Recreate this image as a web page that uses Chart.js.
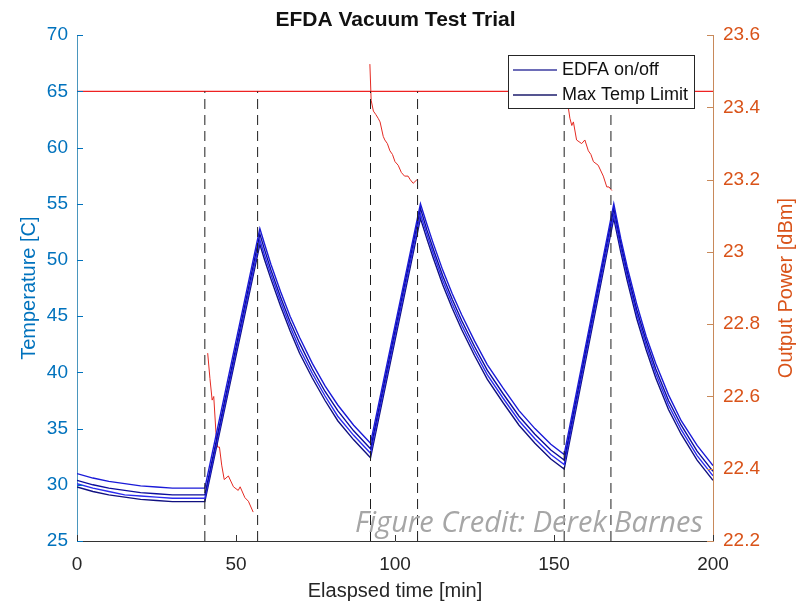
<!DOCTYPE html>
<html>
<head>
<meta charset="utf-8">
<script src="https://cdn.jsdelivr.net/npm/chart.js@4.4.1/dist/chart.umd.min.js"></script>
<style>
  html, body { margin: 0; padding: 0; background: #fff; }
</style>
</head>
<body>
<canvas id="chart" width="803" height="601"></canvas>
<script>
// time axis shared by the four temperature channels [min]
const tempTimes = [0, 5, 10, 15, 20, 25, 30, 35, 40.2,
  57.5, 59, 61, 64, 67, 70, 74, 78, 82, 87, 92.3,
  108, 110, 112, 115, 118, 121, 125, 129, 134, 139, 144, 149, 153.2,
  168.8, 171, 173, 176, 179, 182, 186, 190, 195, 200];

const temp1 = [31.0, 30.6, 30.3, 30.1, 29.9, 29.8, 29.7, 29.7, 29.7,
  52.8, 51.4, 49.6, 47.2, 45.0, 43.1, 40.8, 38.8, 37.1, 35.3, 33.7,
  55.0, 53.2, 51.5, 49.1, 47.0, 45.1, 42.8, 40.7, 38.6, 36.6, 35.0, 33.6, 32.7,
  55.0, 51.9, 49.4, 46.1, 43.2, 40.8, 38.0, 35.7, 33.5, 31.7];
const temp2 = [30.4, 30.0, 29.7, 29.5, 29.3, 29.2, 29.1, 29.1, 29.1,
  52.3, 50.9, 49.1, 46.7, 44.5, 42.6, 40.3, 38.3, 36.6, 34.8, 33.2,
  54.6, 52.7, 51.0, 48.6, 46.5, 44.6, 42.3, 40.2, 38.1, 36.1, 34.5, 33.1, 32.2,
  54.6, 51.5, 49.0, 45.6, 42.8, 40.3, 37.5, 35.3, 33.0, 31.2];
const temp3 = [30.1, 29.7, 29.4, 29.1, 29.0, 28.9, 28.8, 28.8, 28.8,
  51.8, 50.4, 48.7, 46.3, 44.1, 42.1, 39.9, 37.9, 36.1, 34.4, 32.8,
  54.1, 52.3, 50.6, 48.2, 46.1, 44.2, 41.9, 39.8, 37.7, 35.7, 34.1, 32.7, 31.8,
  54.1, 51.1, 48.6, 45.2, 42.4, 39.9, 37.1, 34.9, 32.6, 30.8];
const temp4 = [29.8, 29.4, 29.1, 28.9, 28.7, 28.6, 28.5, 28.5, 28.5,
  51.4, 50.0, 48.3, 45.9, 43.7, 41.7, 39.5, 37.5, 35.7, 34.0, 32.4,
  53.7, 51.9, 50.2, 47.8, 45.7, 43.8, 41.5, 39.4, 37.3, 35.3, 33.7, 32.3, 31.4,
  53.7, 50.7, 48.2, 44.8, 42.0, 39.5, 36.7, 34.5, 32.2, 30.4];

// output power while the EDFA is on [dBm]
const powerTimes1 = [41.1, 41.8, 42.5, 43.0, 43.7, 44.2, 44.8, 45.5, 46.3, 47.6, 49.2, 50.7, 51.3, 52.8, 53.9, 55.4];
const power1 = [22.72, 22.65, 22.59, 22.60, 22.50, 22.46, 22.46, 22.41, 22.37, 22.38, 22.35, 22.34, 22.35, 22.32, 22.31, 22.28];
const powerTimes2 = [92.1, 92.5, 93.2, 94.0, 94.7, 95.3, 96.3, 96.8, 97.6, 98.4, 99.2, 100.0, 101.0, 102.0, 103.0, 104.1, 104.8, 105.7, 106.9];
const power2 = [23.52, 23.42, 23.39, 23.38, 23.37, 23.36, 23.32, 23.31, 23.30, 23.28, 23.27, 23.25, 23.24, 23.22, 23.21, 23.21, 23.20, 23.19, 23.20];
const powerTimes3 = [153.4, 154.0, 154.5, 155.0, 155.6, 156.1, 157.1, 158.7, 159.7, 160.8, 161.6, 162.4, 163.9, 165.5, 166.6, 167.3, 168.2];
const power3 = [23.47, 23.43, 23.40, 23.37, 23.35, 23.36, 23.31, 23.30, 23.31, 23.28, 23.27, 23.25, 23.24, 23.21, 23.18, 23.18, 23.17];

// EDFA switching times and the limit
const onTimes = [40.2, 92.3, 153.2];
const offTimes = [56.8, 107.1, 167.9];
const maxTempLimit = 65;
const tempMin = 25, tempMax = 70;
const powerMin = 22.2, powerMax = 23.6;
const timeMin = 0, timeMax = 200;

const legendLabels = ['EDFA on/off', 'Max Temp Limit'];
const legendColors = ['#3c3ca0', '#1c1c6c'];

const BLUE_AXIS = '#0072BD';
const ORANGE_AXIS = '#D95319';
const FONT = '"Liberation Sans", Arial, sans-serif';

Chart.defaults.font.family = FONT;

const zip = (xs, ys) => xs.map((x, i) => ({ x, y: ys[i] }));

const tempColors = ['#1a1ad8', '#0c0c9c', '#2b2bf0', '#101080'];
const tempSets = [temp1, temp2, temp3, temp4].map((vals, i) => ({
  label: 'T' + (i + 1),
  data: zip(tempTimes, vals),
  borderColor: tempColors[i],
  borderWidth: 1.4,
  yAxisID: 'y'
}));

const switchSets = onTimes.concat(offTimes).map(t => ({
  label: 'switch',
  data: [{ x: t, y: tempMin }, { x: t, y: maxTempLimit }],
  borderColor: '#1e1e1e',
  borderWidth: 1,
  borderDash: [10, 6],
  yAxisID: 'y'
}));

const powerSets = [[powerTimes1, power1], [powerTimes2, power2], [powerTimes3, power3]].map(([t, v]) => ({
  label: 'power',
  data: zip(t, v),
  borderColor: '#e42a22',
  borderWidth: 1,
  yAxisID: 'y2'
}));

const limitSet = {
  label: 'limit',
  data: [{ x: timeMin, y: maxTempLimit }, { x: timeMax, y: maxTempLimit }],
  borderColor: '#ee2222',
  borderWidth: 1.2,
  yAxisID: 'y'
};

// inward tick marks, right axis title, in-plot legend and credit
const decorations = {
  id: 'decorations',
  afterDraw(chart) {
    const { ctx, chartArea: a, scales } = chart;
    ctx.save();
    ctx.lineWidth = 1;

    ctx.strokeStyle = BLUE_AXIS;
    scales.y.ticks.forEach(t => {
      const y = Math.round(scales.y.getPixelForValue(t.value)) + 0.5;
      ctx.beginPath(); ctx.moveTo(a.left, y); ctx.lineTo(a.left + 6, y); ctx.stroke();
    });
    ctx.strokeStyle = '#c8895a';
    scales.y2.ticks.forEach(t => {
      const y = Math.round(scales.y2.getPixelForValue(t.value)) + 0.5;
      ctx.beginPath(); ctx.moveTo(a.right - 6, y); ctx.lineTo(a.right, y); ctx.stroke();
    });
    ctx.strokeStyle = '#333';
    scales.x.ticks.forEach(t => {
      const x = Math.round(scales.x.getPixelForValue(t.value)) + 0.5;
      ctx.beginPath(); ctx.moveTo(x, a.bottom); ctx.lineTo(x, a.bottom - 6); ctx.stroke();
    });

    // right axis title, reading bottom to top
    ctx.save();
    ctx.translate(786, (a.top + a.bottom) / 2);
    ctx.rotate(-Math.PI / 2);
    ctx.font = '20px ' + FONT;
    ctx.fillStyle = ORANGE_AXIS;
    ctx.textAlign = 'center';
    ctx.textBaseline = 'middle';
    ctx.fillText('Output Power [dBm]', 0, 0);
    ctx.restore();

    // legend box
    const lx = 508, ly = 55, lw = 186, lh = 53;
    ctx.fillStyle = '#fff';
    ctx.fillRect(lx, ly, lw, lh);
    ctx.strokeStyle = '#262626';
    ctx.strokeRect(lx + 0.5, ly + 0.5, lw, lh);
    ctx.font = '18px ' + FONT;
    ctx.textAlign = 'left';
    ctx.textBaseline = 'middle';
    legendLabels.forEach((lab, i) => {
      const y = ly + 15 + i * 25;
      ctx.strokeStyle = legendColors[i];
      ctx.lineWidth = 1.3;
      ctx.beginPath(); ctx.moveTo(lx + 5, y); ctx.lineTo(lx + 49, y); ctx.stroke();
      ctx.fillStyle = '#111';
      ctx.fillText(lab, lx + 54, y);
    });

    // credit
    ctx.font = 'italic 29px "Open Sans", sans-serif';
    ctx.fillStyle = '#a6a6a6';
    ctx.textAlign = 'right';
    ctx.textBaseline = 'alphabetic';
    ctx.fillText('Figure Credit: Derek Barnes', 703, 532);
    ctx.restore();
  }
};

new Chart(document.getElementById('chart'), {
  type: 'line',
  data: { datasets: [...switchSets, ...tempSets, limitSet, ...powerSets] },
  plugins: [decorations],
  options: {
    responsive: false,
    animation: false,
    layout: { padding: { left: 0, right: 12, top: 0, bottom: 0 } },
    elements: { point: { radius: 0 }, line: { tension: 0 } },
    plugins: {
      legend: { display: false },
      tooltip: { enabled: false },
      title: {
        display: true,
        text: 'EFDA Vacuum Test Trial',
        color: '#111',
        font: { size: 21, weight: 'bold' },
        padding: { top: 8, bottom: 2 }
      }
    },
    scales: {
      x: {
        type: 'linear',
        min: timeMin, max: timeMax,
        grid: { display: false, drawTicks: false },
        border: { display: true, color: '#333' },
        ticks: { stepSize: 50, color: '#262626', font: { size: 19 }, padding: 12, maxRotation: 0 },
        title: { display: true, text: 'Elaspsed time [min]', color: '#262626', font: { size: 20, lineHeight: 1 }, padding: { top: 0, bottom: 0 } },
        afterFit(s) { s.height = 60; }
      },
      y: {
        position: 'left',
        min: tempMin, max: tempMax,
        grid: { display: false, drawTicks: false },
        border: { display: true, color: '#4a96bd' },
        ticks: { stepSize: 5, color: BLUE_AXIS, font: { size: 19 }, padding: 9 },
        title: { display: true, text: 'Temperature [C]', color: BLUE_AXIS, font: { size: 20 }, padding: { top: 17, bottom: 0 } },
        afterFit(s) { s.width = 77; }
      },
      y2: {
        position: 'right',
        min: powerMin, max: powerMax,
        grid: { display: false, drawTicks: false },
        border: { display: true, color: '#c8895a' },
        ticks: { stepSize: 0.2, color: ORANGE_AXIS, font: { size: 19 }, padding: 10, callback: v => String(+v.toFixed(1)) },
        afterFit(s) { s.width = 78; }
      }
    }
  }
});
</script>
</body>
</html>
